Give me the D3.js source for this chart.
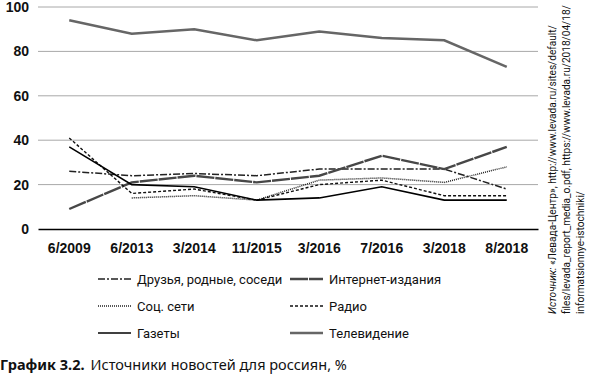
<!DOCTYPE html>
<html>
<head>
<meta charset="utf-8">
<script src="https://cdn.jsdelivr.net/npm/d3@7"></script>
<style>
  body { margin: 0; background: #fff; }
  svg { font-family: "Noto Sans", sans-serif; }
  .tick text { font-weight: bold; font-size: 14px; fill: #111; }
</style>
</head>
<body>
<div class="chart-container"></div>
<script>
var w = 590;
var h = 378;

// data
var periods = ["6/2009", "6/2013", "3/2014", "11/2015", "3/2016", "7/2016", "3/2018", "8/2018"];
var friends = [26, 24, 25, 24, 27, 27, 27, 18];
var internet = [9, 21, 24, 21, 24, 33, 27, 37];
var social = [null, 14, 15, 13, 22, 23, 21, 28];
var radio = [41, 16, 18, 13, 20, 22, 15, 15];
var papers = [37, 20, 19, 13, 14, 19, 13, 13];
var tv = [94, 88, 90, 85, 89, 86, 85, 73];
var yTicks = [0, 20, 40, 60, 80, 100];

var series = [
    {name: "Друзья, родные, соседи", values: friends, color: "#222", width: 1.5, dash: "7,2,2,2"},
    {name: "Интернет-издания", values: internet, color: "#474747", width: 2.4, dash: "18,1"},
    {name: "Соц. сети", values: social, color: "#222", width: 1.5, dash: "1,1"},
    {name: "Радио", values: radio, color: "#111", width: 1.4, dash: "3,2"},
    {name: "Газеты", values: papers, color: "#000", width: 1.6, dash: null},
    {name: "Телевидение", values: tv, color: "#666", width: 2.5, dash: null}
];

var svg = d3.select(".chart-container")
            .append("svg")
            .attr("width", w)
            .attr("height", h);

var xScale = d3.scaleBand()
                .domain(periods)
                .range([38, 538]);

var yScale = d3.scaleLinear()
                .domain([0, 100])
                .range([229, 7]);

//gridlines
svg.append("g")
    .selectAll("line")
    .data(yTicks.slice(1))
    .enter()
    .append("line")
    .attr("x1", 38)
    .attr("x2", 538)
    .attr("y1", function(d) { return yScale(d); })
    .attr("y2", function(d) { return yScale(d); })
    .attr("stroke", "#a8a8a8")
    .attr("stroke-width", 1);

//y-axis labels
var yAxis = d3.axisLeft(yScale)
                .tickValues(yTicks)
                .tickSize(0)
                .tickPadding(9);

svg.append("g")
    .attr("transform", "translate(38,0)")
    .call(yAxis)
    .call(function(g) { g.select(".domain").remove(); });

//x-axis
var xAxis = d3.axisBottom(xScale)
                .tickSize(0)
                .tickPadding(14);

svg.append("g")
    .attr("transform", "translate(0,229)")
    .call(xAxis)
    .call(function(g) {
        g.select(".domain").attr("stroke", "#000").attr("stroke-width", 1.5);
    });

//lines
var line = d3.line()
    .defined(function(d) { return d != null; })
    .x(function(d, i) { return xScale(periods[i]) + xScale.bandwidth() / 2; })
    .y(function(d) { return yScale(d); });

svg.append("g")
    .selectAll("path")
    .data(series)
    .enter()
    .append("path")
    .attr("fill", "none")
    .attr("stroke", function(d) { return d.color; })
    .attr("stroke-width", function(d) { return d.width; })
    .attr("stroke-dasharray", function(d) { return d.dash; })
    .attr("d", function(d) { return line(d.values); });

//legend
var legend = svg.append("g")
    .selectAll("g")
    .data(series)
    .enter()
    .append("g")
    .attr("transform", function(d, i) {
        return "translate(" + (i % 2 == 0 ? 98 : 290) + "," + (279 + Math.floor(i / 2) * 27) + ")";
    });

legend.append("line")
    .attr("x1", 0)
    .attr("x2", 33)
    .attr("stroke", function(d) { return d.color; })
    .attr("stroke-width", function(d) { return d.width; })
    .attr("stroke-dasharray", function(d) { return d.dash; });

legend.append("text")
    .attr("x", 39)
    .attr("dy", "0.35em")
    .attr("font-family", "Roboto, sans-serif")
    .attr("font-size", 13)
    .attr("fill", "#111")
    .text(function(d) { return d.name; });

//caption
var caption = svg.append("text")
    .attr("x", 0)
    .attr("y", 370)
    .attr("font-size", 14.5)
    .attr("fill", "#111");
caption.append("tspan").attr("font-weight", "bold").text("График 3.2.");
caption.append("tspan").attr("dx", 6).text("Источники новостей для россиян, %");

//source, rotated
var src = svg.append("text")
    .attr("transform", "translate(556,314) rotate(-90)")
    .attr("font-family", "Roboto, sans-serif")
    .attr("font-size", 10.1)
    .attr("fill", "#111");
src.append("tspan").attr("x", 0).attr("y", 0)
    .html("<tspan font-style='italic'>Источник:</tspan> «Левада-Центр», http://www.levada.ru/sites/default/");
src.append("tspan").attr("x", 0).attr("y", 14)
    .text("files/levada_report_media_o.pdf, https://www.levada.ru/2018/04/18/");
src.append("tspan").attr("x", 0).attr("y", 28)
    .text("informatsionnye-istochniki/");
</script>
</body>
</html>
